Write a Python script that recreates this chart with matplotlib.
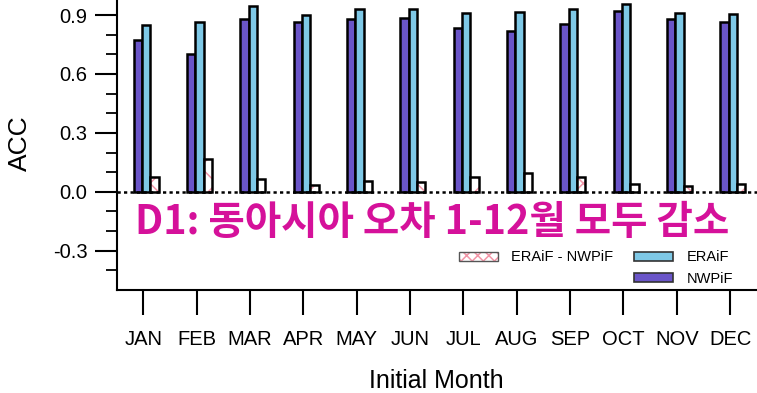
import matplotlib
matplotlib.use('Agg')
import matplotlib.pyplot as plt
import numpy as np
from matplotlib.patches import Patch

months = ['JAN', 'FEB', 'MAR', 'APR', 'MAY', 'JUN',
          'JUL', 'AUG', 'SEP', 'OCT', 'NOV', 'DEC']
nwpif = [0.774, 0.700, 0.878, 0.864, 0.878, 0.886,
         0.835, 0.818, 0.856, 0.920, 0.880, 0.866]
eraif = [0.847, 0.863, 0.944, 0.898, 0.931, 0.931,
         0.912, 0.915, 0.931, 0.958, 0.910, 0.904]
diff = [0.073, 0.166, 0.067, 0.034, 0.055, 0.048,
        0.078, 0.098, 0.076, 0.040, 0.032, 0.040]

COLORS = {
    'nwp': '#6A55C8',
    'era': '#7EC8E6',
    'hatch': '#F296A8',
    'note': '#D5119A',
}

plt.rcParams.update({
    'font.family': ['Liberation Sans', 'DejaVu Sans'],
    'hatch.linewidth': 1.1,
    'axes.linewidth': 1.5,
})

fig = plt.figure(figsize=(7.57, 3.93), dpi=100)
ax = fig.add_axes([0.1542, 0.262, 0.8455, 0.7497])

x = np.arange(1, len(months) + 1)
w = 0.156
edge = dict(edgecolor='black', linewidth=1.8)

ax.bar(x - 0.104, nwpif, w, color=COLORS['nwp'], zorder=2, **edge)
ax.bar(x + 0.052, eraif, w, color=COLORS['era'], zorder=2, **edge)
# hatched difference bars: pink hatch first, black outline on top
ax.bar(x + 0.208, diff, w, color='white', edgecolor=COLORS['hatch'],
       hatch='x', linewidth=0, zorder=2)
ax.bar(x + 0.208, diff, w, fill=False, zorder=3, **edge)

ax.axhline(0, color='black', linewidth=1.8, linestyle=(0, (1.3, 1.3)), zorder=4)

ax.set_xlim(0.5, 12.5)
ax.set_ylim(-0.5, 1.0)
ax.set_xticks(x)
ax.set_xticklabels(months, fontsize=14.5)
ax.set_yticks([-0.3, 0.0, 0.3, 0.6, 0.9])
ax.set_yticklabels(['-0.3', '0.0', '0.3', '0.6', '0.9'], fontsize=14.5)
ax.set_yticks(np.arange(-0.4, 1.0, 0.1), minor=True)
ax.tick_params(axis='y', which='major', length=16, width=1.5, pad=5)
ax.tick_params(axis='y', which='minor', length=8, width=1.3)
ax.tick_params(axis='x', which='major', length=18, width=1.5, pad=11)
ax.spines['right'].set_visible(False)
ax.spines['top'].set_visible(False)

ax.set_ylabel('ACC', fontsize=19, labelpad=15)
ax.set_xlabel('Initial Month', fontsize=18, labelpad=14)

ax.text(0.028, 0.228, 'D1: 동아시아 오차 1-12월 모두 감소', transform=ax.transAxes,
        fontsize=28.5, fontweight='bold', color=COLORS['note'],
        family=['Noto Sans CJK KR', 'DejaVu Sans'], va='center', ha='left')

h_diff = (Patch(facecolor='white', edgecolor=COLORS['hatch'], hatch='xxx', linewidth=0),
          Patch(fill=False, edgecolor='#555555', linewidth=1.0))
h_blank = Patch(visible=False)
h_era = Patch(facecolor=COLORS['era'], edgecolor='#333333', linewidth=1.2)
h_nwp = Patch(facecolor=COLORS['nwp'], edgecolor='#333333', linewidth=1.2)
ax.legend([h_diff, h_blank, h_era, h_nwp],
          ['ERAiF - NWPiF', '', 'ERAiF', 'NWPiF'],
          ncol=2, frameon=False, fontsize=10.5, loc='lower left',
          bbox_to_anchor=(0.514, -0.03), handlelength=2.7, handleheight=0.55,
          handletextpad=0.9, columnspacing=1.4, labelspacing=0.5)

fig.savefig('out.png', dpi=100, facecolor='white')
